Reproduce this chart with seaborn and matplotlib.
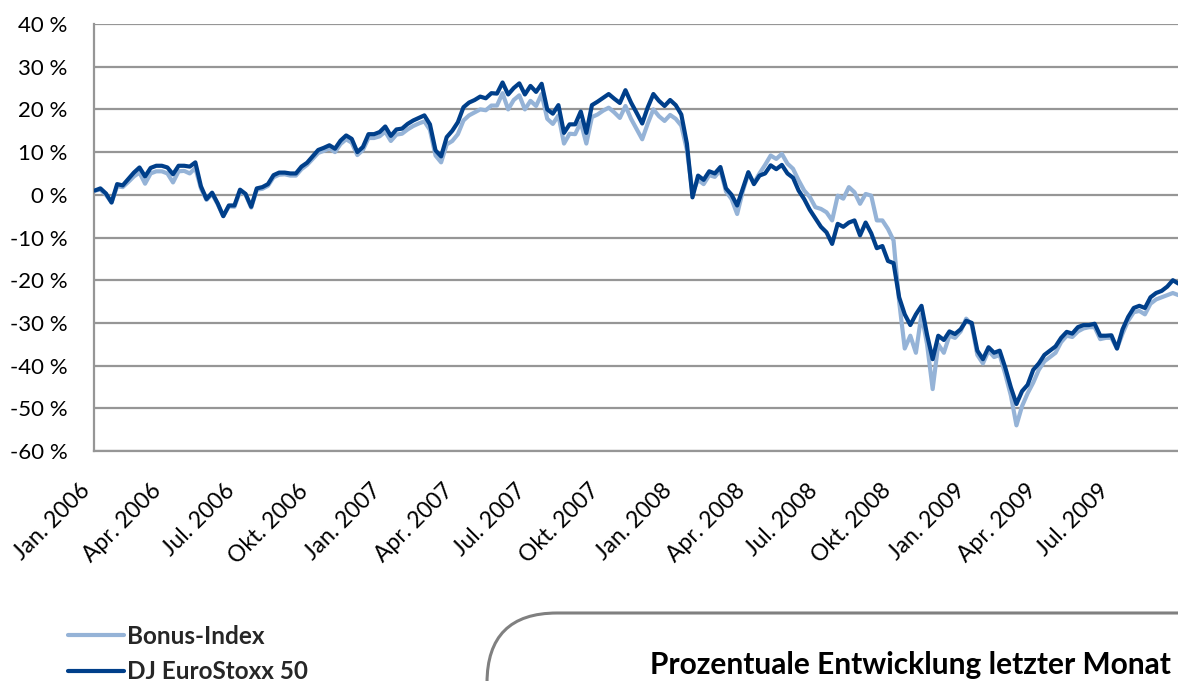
import matplotlib
matplotlib.use("Agg")
import matplotlib.pyplot as plt
import matplotlib.dates as mdates
from matplotlib.patches import FancyBboxPatch
from matplotlib.lines import Line2D
import numpy as np
import pandas as pd
import seaborn as sns

# Weekly closing values, change since start of 2006 in percent
start_date = "2006-01-02"

eurostoxx = [
    1.0, 1.5, 0.3, -1.8, 2.5, 2.2, 3.7, 5.2, 6.4, 4.3, 6.3, 6.8, 6.8, 6.4, 4.8, 6.8, 6.8, 6.6, 7.6, 2.0,
    -1.0, 0.5, -2.0, -5.0, -2.5, -2.5, 1.2, 0.2, -2.8, 1.5, 1.8, 2.5, 4.6, 5.2, 5.2, 5.0, 5.0, 6.6, 7.5, 9.0,
    10.5, 11.0, 11.6, 10.8, 12.7, 13.9, 13.1, 10.0, 11.2, 14.2, 14.2, 14.7, 16.0, 13.8, 15.3, 15.5, 16.6, 17.4, 18.0, 18.6,
    16.5, 10.4, 9.0, 13.5, 15.0, 17.0, 20.5, 21.6, 22.2, 23.0, 22.6, 23.8, 23.7, 26.3, 23.5, 25.0, 26.1, 23.5, 25.5, 24.1,
    26.0, 20.0, 19.0, 21.0, 14.5, 16.5, 16.5, 19.5, 14.5, 21.0, 21.8, 22.7, 23.6, 22.5, 21.5, 24.5, 21.6, 19.2, 16.7, 20.5,
    23.6, 22.0, 20.8, 22.2, 21.0, 18.8, 12.0, -0.6, 4.5, 3.5, 5.5, 5.0, 6.5, 1.5, 0.0, -2.5, 1.4, 5.3, 2.5, 4.5,
    5.0, 6.9, 6.0, 7.0, 5.0, 4.0, 1.0, -1.0, -3.5, -5.5, -7.5, -8.8, -11.5, -6.8, -7.5, -6.5, -6.0, -9.5, -6.5, -9.0,
    -12.5, -12.0, -15.5, -16.0, -24.0, -28.0, -30.5, -28.0, -26.0, -32.8, -38.5, -33.0, -34.0, -32.0, -32.6, -31.5, -29.5, -30.0, -36.5, -38.5,
    -35.7, -37.0, -36.5, -40.5, -45.1, -49.0, -46.0, -44.5, -41.0, -39.5, -37.5, -36.5, -35.5, -33.5, -32.1, -32.5, -31.0, -30.5, -30.5, -30.2,
    -33.0, -33.0, -32.9, -36.0, -31.5, -28.6, -26.5, -26.0, -26.5, -24.0, -23.0, -22.5, -21.5, -20.0, -20.8,
]

bonus_index = [
    1.0, 1.2, 0.0, -1.8, 2.0, 1.8, 3.0, 4.3, 5.2, 2.6, 5.0, 5.5, 5.5, 5.0, 2.9, 5.5, 5.6, 5.0, 6.3, 1.5,
    -1.2, 0.2, -2.2, -5.0, -2.7, -2.8, 0.8, 0.0, -3.0, 1.2, 1.4, 2.1, 4.1, 4.7, 4.8, 4.5, 4.5, 6.0, 7.0, 8.4,
    9.8, 10.3, 10.9, 10.0, 11.9, 13.0, 12.2, 9.3, 10.5, 13.3, 13.3, 13.7, 14.8, 12.6, 14.1, 14.3, 15.3, 16.1, 16.7, 17.2,
    15.2, 9.2, 7.6, 11.8, 12.6, 14.2, 17.4, 18.6, 19.3, 20.0, 19.8, 20.9, 20.9, 23.8, 20.0, 22.2, 23.3, 20.0, 22.0, 20.8,
    23.6, 17.8, 16.6, 18.6, 12.0, 14.3, 14.2, 17.0, 12.0, 18.2, 18.8, 19.7, 20.4, 19.3, 18.0, 20.8, 17.8, 15.4, 13.0, 16.7,
    20.0, 18.4, 17.3, 18.7, 17.8, 16.2, 10.5, 0.5, 3.5, 2.5, 4.6, 4.2, 5.8, 0.8, -1.0, -4.5, 0.8, 5.0, 2.8, 5.0,
    7.0, 9.2, 8.4, 9.6, 7.3, 6.1, 3.4, 1.0, -0.5, -2.9, -3.3, -4.1, -6.0, -0.2, -0.9, 1.8, 0.6, -2.1, 0.2, -0.2,
    -6.0, -6.0, -8.0, -10.7, -25.0, -36.0, -33.0, -37.0, -28.0, -35.0, -45.5, -35.0, -37.0, -33.0, -33.5, -32.0, -29.0, -30.5, -37.5, -39.5,
    -36.5, -38.0, -37.5, -42.0, -47.0, -54.0, -49.5, -46.5, -44.0, -41.0, -39.0, -38.0, -37.0, -34.5, -33.0, -33.3, -32.0, -31.3, -31.0, -31.0,
    -33.8, -33.5, -33.5, -36.0, -32.5, -29.5, -27.5, -27.2, -28.0, -25.5, -24.5, -24.0, -23.5, -23.0, -23.5,
]

series_names = ["Bonus-Index", "DJ EuroStoxx 50"]
series_colors = ["#95B3D7", "#003F8A"]
month_names = {1: "Jan.", 4: "Apr.", 7: "Jul.", 10: "Okt."}
y_ticks = [40, 30, 20, 10, 0, -10, -20, -30, -40, -50, -60]
box_title = "Prozentuale Entwicklung letzter Monat"

dates = pd.date_range(start_date, periods=len(eurostoxx), freq="7D")
df = pd.DataFrame({
    "Datum": np.concatenate([dates, dates]),
    "Wert": bonus_index + eurostoxx,
    "Serie": [series_names[0]] * len(bonus_index) + [series_names[1]] * len(eurostoxx),
})

sns.set_theme(style="white")
plt.rcParams["font.family"] = ["Lato", "DejaVu Sans"]

W, H = 1178, 681
AX_LEFT, AX_RIGHT, AX_TOP, AX_BOTTOM = 94, 1182, 24, 451
fig = plt.figure(figsize=(W / 100, H / 100), dpi=100)
# plot area runs right up to (and slightly past) the right edge of the figure
ax = fig.add_axes([AX_LEFT / W, (H - AX_BOTTOM) / H, (AX_RIGHT - AX_LEFT) / W, (AX_BOTTOM - AX_TOP) / H])

sns.lineplot(data=df, x="Datum", y="Wert", hue="Serie", hue_order=series_names,
             palette=series_colors, linewidth=3.0, ax=ax, legend=False, zorder=3)

x0 = pd.Timestamp("2006-01-01")
px_per_day = (1113 - AX_LEFT) / (pd.Timestamp("2009-07-01") - x0).days
ax.set_xlim(x0, x0 + pd.Timedelta(days=(AX_RIGHT - AX_LEFT) / px_per_day))
ax.set_ylim(-60, 40)
ax.set_yticks(y_ticks)
ax.set_yticklabels([f"{v} %" for v in y_ticks])

ax.xaxis.set_major_locator(mdates.MonthLocator(bymonth=[1, 4, 7, 10]))
ax.xaxis.set_major_formatter(
    plt.FuncFormatter(lambda v, p: f"{month_names[mdates.num2date(v).month]} {mdates.num2date(v).year}"))

ax.set_xlabel("")
ax.set_ylabel("")
ax.grid(axis="y", color="#969696", linewidth=1.6)
ax.grid(axis="x", visible=False)
for side in ["top", "right"]:
    ax.spines[side].set_visible(False)
for side in ["left", "bottom"]:
    ax.spines[side].set_color("#969696")
    ax.spines[side].set_linewidth(1.6)

ax.tick_params(axis="y", length=0, pad=19, labelsize=16, labelcolor="#000000")
ax.tick_params(axis="x", length=6, width=1.6, color="#969696", direction="out",
               pad=15, labelsize=16.5, labelcolor="#000000")
for lab in ax.get_xticklabels():
    lab.set_rotation(45)
    lab.set_ha("right")
    lab.set_va("top")
    lab.set_rotation_mode("default")

# legend below the plot
handles = [Line2D([0], [0], color=c, linewidth=3.0) for c in series_colors]
fig.legend(handles, series_names, loc="upper left",
           bbox_to_anchor=(46 / W, 1 - 603 / H), frameon=False,
           handlelength=2.3, handletextpad=0.15, labelspacing=0.5,
           prop={"weight": "bold", "size": 17.5})

# rounded info box at the lower right
box = FancyBboxPatch((4.87, -1.5), 8.0, 1.5 + (H - 613) / 100,
                     boxstyle="round,pad=0,rounding_size=0.7",
                     transform=fig.dpi_scale_trans, facecolor="white",
                     edgecolor="#808080", linewidth=2.2, clip_on=False)
fig.patches.append(box)
fig.text(650 / W, 1 - 665 / H, box_title, fontsize=21.5, fontweight="bold",
         ha="left", va="center", color="#000000")

fig.savefig("out.png", dpi=100)
